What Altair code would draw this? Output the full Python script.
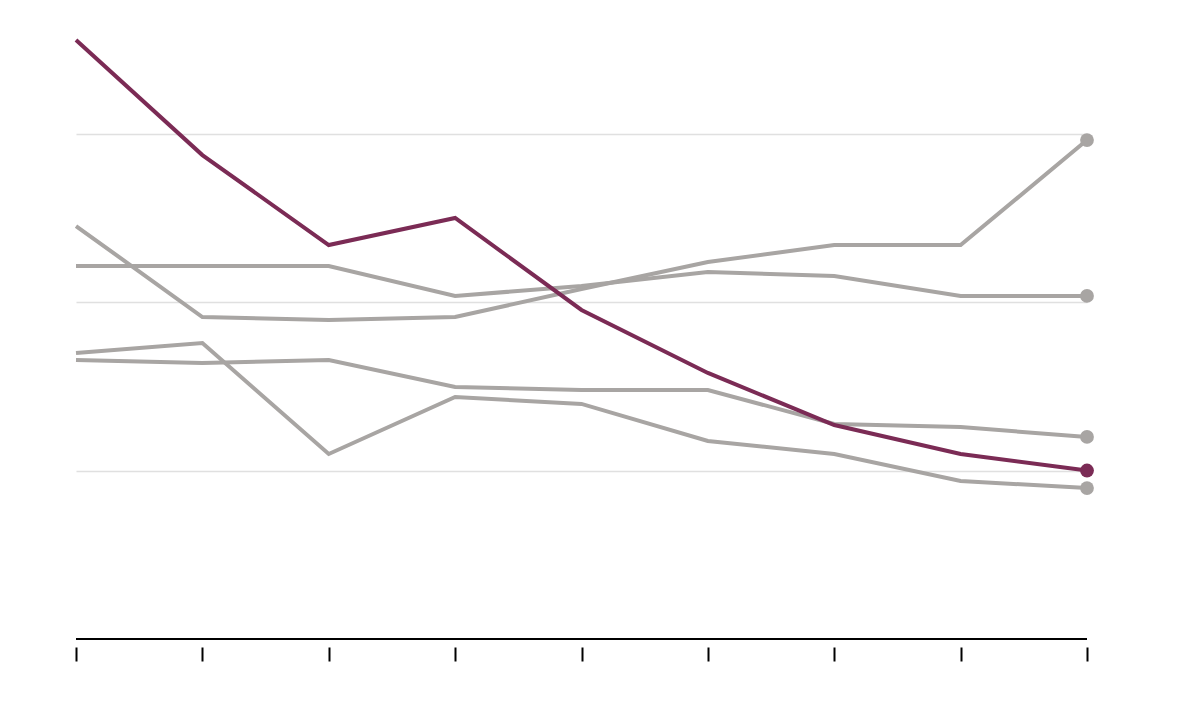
import altair as alt
import pandas as pd

steps = list(range(9))
highlight = [35.55, 28.72, 23.38, 24.99, 19.53, 15.79, 12.70, 10.98, 10.0]
gray_a = [24.51, 19.11, 18.93, 19.11, 20.77, 22.37, 23.38, 23.38, 29.61]
gray_b = [22.14, 22.14, 22.14, 20.36, 20.95, 21.78, 21.54, 20.36, 20.36]
gray_c = [16.56, 16.38, 16.56, 14.96, 14.78, 14.78, 12.76, 12.58, 11.99]
gray_d = [16.97, 17.57, 10.98, 14.36, 13.95, 11.75, 10.98, 9.38, 8.96]

PURPLE = "#7b2b55"
GRAY = "#a8a5a3"

rows = []
for name, vals in [("a", gray_a), ("b", gray_b), ("c", gray_c), ("d", gray_d)]:
    for s, v in zip(steps, vals):
        rows.append({"step": s, "value": v, "series": name})
gray_df = pd.DataFrame(rows)
hl_df = pd.DataFrame({"step": steps, "value": highlight, "series": "h"})

x = alt.X("step:Q", scale=alt.Scale(domain=[0, 8], nice=False),
          axis=alt.Axis(values=steps, labels=False, title=None, domain=False,
                        grid=False, tickSize=14, tickWidth=2, tickColor="#000000",
                        offset=8))
y = alt.Y("value:Q", scale=alt.Scale(domain=[0, 35.55], nice=False, zero=True),
          axis=alt.Axis(values=[10, 20, 30], labels=False, ticks=False, domain=False,
                        title=None, grid=True, gridColor="#e0e0e0", gridWidth=1.5))

grid_base = alt.Chart(hl_df).mark_point(opacity=0).encode(x=x, y=y)

gray_lines = alt.Chart(gray_df).mark_line(color=GRAY, strokeWidth=4).encode(
    x=alt.X("step:Q"), y=alt.Y("value:Q"), detail="series:N")
gray_pts = alt.Chart(gray_df).transform_filter("datum.step == 8").mark_circle(
    color=GRAY, size=190, opacity=1).encode(x="step:Q", y="value:Q")
hl_line = alt.Chart(hl_df).mark_line(color=PURPLE, strokeWidth=4).encode(
    x="step:Q", y="value:Q")
hl_pt = alt.Chart(hl_df).transform_filter("datum.step == 8").mark_circle(
    color=PURPLE, size=190, opacity=1).encode(x="step:Q", y="value:Q")

base_rule = alt.Chart(pd.DataFrame({"y": [0], "x1": [0], "x2": [8]})).mark_rule(
    color="#000000", strokeWidth=2).encode(x="x1:Q", x2="x2:Q", y="y:Q")

chart = alt.layer(grid_base, base_rule, gray_lines, gray_pts, hl_line, hl_pt).properties(
    width=1011, height=599,
    autosize=alt.AutoSizeParams(type="none"),
    padding={"left": 68, "top": 32, "right": 100, "bottom": 80},
).configure_view(stroke=None)

chart.save("out.html", embed_options={"renderer": "svg", "actions": False})
